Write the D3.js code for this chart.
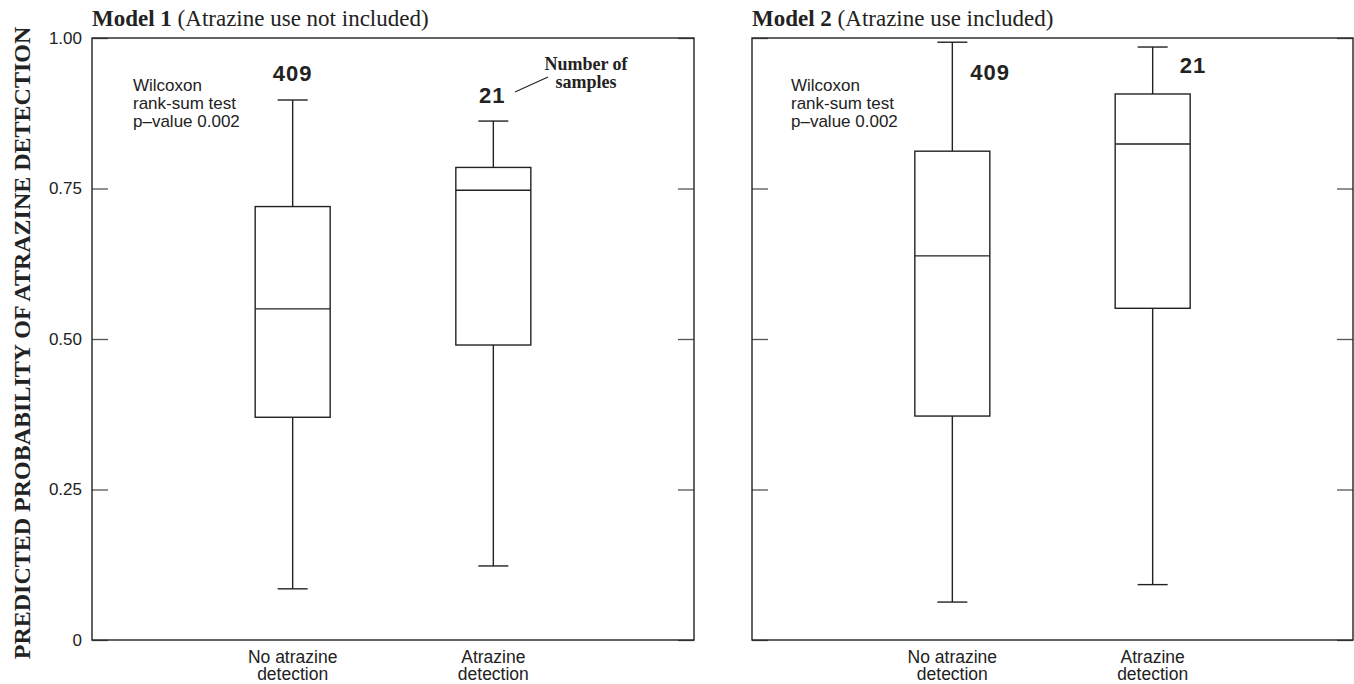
<!DOCTYPE html>
<html>
<head>
<meta charset="utf-8">
<script src="https://cdn.jsdelivr.net/npm/d3@7/dist/d3.min.js"></script>
<style>
  html, body { margin: 0; padding: 0; background: #fff; }
  svg { display: block; }
</style>
</head>
<body>
<svg id="chart" width="1354" height="684"></svg>
<script>
// Box-plot summaries of predicted probability of atrazine detection
const categories = ["No atrazine detection", "Atrazine detection"];
const categoryLines = [["No atrazine", "detection"], ["Atrazine", "detection"]];
const sampleCounts = [409, 21];

// [lower whisker, 25th pct, median, 75th pct, upper whisker]
const model1NoDetection = [0.085, 0.37, 0.55, 0.72, 0.897];
const model1Detection   = [0.123, 0.49, 0.747, 0.785, 0.862];
const model2NoDetection = [0.063, 0.372, 0.638, 0.812, 0.993];
const model2Detection   = [0.092, 0.551, 0.824, 0.907, 0.985];

const yTicks = [0, 0.25, 0.5, 0.75, 1.0];
const yTickLabels = ["0", "0.25", "0.50", "0.75", "1.00"];

const panels = [
  { bold: "Model 1", rest: " (Atrazine use not included)", boxes: [model1NoDetection, model1Detection], x0: 92, x1: 694, labels: true },
  { bold: "Model 2", rest: " (Atrazine use included)", boxes: [model2NoDetection, model2Detection], x0: 752, x1: 1353, labels: false }
];

const svg = d3.select("#chart");
const plotTop = 38, plotBottom = 640;
const y = d3.scaleLinear().domain([0, 1]).range([plotBottom, plotTop]);

const sans = "'Liberation Sans', Arial, Helvetica, sans-serif";
const serif = "'Liberation Serif', 'Times New Roman', Times, serif";
const ink = "#222";

// Y-axis title
svg.append("text")
  .attr("transform", `translate(30,343) rotate(-90)`)
  .attr("text-anchor", "middle")
  .attr("font-family", serif)
  .attr("font-weight", "bold")
  .attr("font-size", 24)
  .attr("fill", ink)
  .text("PREDICTED PROBABILITY OF ATRAZINE DETECTION");

panels.forEach((p, pi) => {
  const g = svg.append("g");
  const x = d3.scalePoint().domain(categories).range([p.x0, p.x1]).padding(1);

  // Title
  const t = g.append("text")
    .attr("x", p.x0).attr("y", 26)
    .attr("font-family", serif).attr("font-size", 23).attr("fill", ink);
  t.append("tspan").attr("font-weight", "bold").text(p.bold);
  t.append("tspan").text(p.rest);

  // Left axis (inward ticks)
  const left = d3.axisLeft(y).tickValues(yTicks).tickSize(-16).tickPadding(10)
    .tickFormat((d, i) => p.labels ? yTickLabels[i] : "");
  const gl = g.append("g").attr("transform", `translate(${p.x0},0)`).call(left);
  gl.select(".domain").remove();
  gl.selectAll("line").attr("stroke", "#555").attr("stroke-width", 1.3);
  gl.selectAll("text").attr("font-family", sans).attr("font-size", 17).attr("fill", ink);

  // Right axis (inward ticks)
  const right = d3.axisRight(y).tickValues(yTicks).tickSize(-16).tickFormat("");
  const gr = g.append("g").attr("transform", `translate(${p.x1},0)`).call(right);
  gr.select(".domain").remove();
  gr.selectAll("line").attr("stroke", "#555").attr("stroke-width", 1.3);

  // Frame
  g.append("rect")
    .attr("x", p.x0).attr("y", plotTop)
    .attr("width", p.x1 - p.x0).attr("height", plotBottom - plotTop)
    .attr("fill", "none").attr("stroke", ink).attr("stroke-width", 1.4);

  // Boxes
  const boxW = 75, capW = 30;
  p.boxes.forEach((s, i) => {
    const cx = x(categories[i]);
    const [lo, q1, med, q3, hi] = s;
    const bg = g.append("g").attr("stroke", ink).attr("stroke-width", 1.4).attr("fill", "none");
    bg.append("line").attr("x1", cx).attr("x2", cx).attr("y1", y(hi)).attr("y2", y(q3));
    bg.append("line").attr("x1", cx).attr("x2", cx).attr("y1", y(q1)).attr("y2", y(lo));
    bg.append("line").attr("x1", cx - capW / 2).attr("x2", cx + capW / 2).attr("y1", y(hi)).attr("y2", y(hi));
    bg.append("line").attr("x1", cx - capW / 2).attr("x2", cx + capW / 2).attr("y1", y(lo)).attr("y2", y(lo));
    bg.append("rect").attr("x", cx - boxW / 2).attr("y", y(q3))
      .attr("width", boxW).attr("height", y(q1) - y(q3)).attr("fill", "#fff");
    bg.append("line").attr("x1", cx - boxW / 2).attr("x2", cx + boxW / 2).attr("y1", y(med)).attr("y2", y(med));

    // Category label (two lines)
    categoryLines[i].forEach((ln, k) => {
      g.append("text").attr("text-anchor", "middle")
        .attr("font-family", sans).attr("font-size", 17.5).attr("fill", ink)
        .attr("x", cx).attr("y", 663 + k * 17).text(ln);
    });
  });

  // Sample counts
  const c0 = x(categories[0]), c1 = x(categories[1]);
  const countStyle = sel => sel.attr("font-family", sans).attr("font-weight", "bold")
    .attr("font-size", 22).attr("fill", ink).attr("letter-spacing", 1);
  if (pi === 0) {
    countStyle(g.append("text").attr("x", c0).attr("y", 81).attr("text-anchor", "middle")).text(sampleCounts[0]);
    countStyle(g.append("text").attr("x", c1 - 1).attr("y", 103).attr("text-anchor", "middle")).text(sampleCounts[1]);
    // Leader to "Number of samples"
    g.append("line").attr("x1", 515).attr("y1", 92).attr("x2", 548).attr("y2", 77)
      .attr("stroke", ink).attr("stroke-width", 1.2);
    const ns = g.append("text").attr("text-anchor", "middle")
      .attr("font-family", serif).attr("font-weight", "bold").attr("font-size", 18).attr("fill", ink);
    ns.append("tspan").attr("x", 586).attr("y", 70).text("Number of");
    ns.append("tspan").attr("x", 586).attr("y", 88).text("samples");
  } else {
    countStyle(g.append("text").attr("x", c0 + 18).attr("y", 80)).text(sampleCounts[0]);
    countStyle(g.append("text").attr("x", c1 + 27).attr("y", 73)).text(sampleCounts[1]);
  }

  // Test annotation
  const wx = pi === 0 ? 133 : 791;
  const wt = g.append("text").attr("font-family", sans).attr("font-size", 17).attr("fill", ink);
  ["Wilcoxon", "rank-sum test", "p\u2013value 0.002"].forEach((ln, k) => {
    wt.append("tspan").attr("x", wx).attr("y", 91 + k * 18).text(ln);
  });
});
</script>
</body>
</html>
